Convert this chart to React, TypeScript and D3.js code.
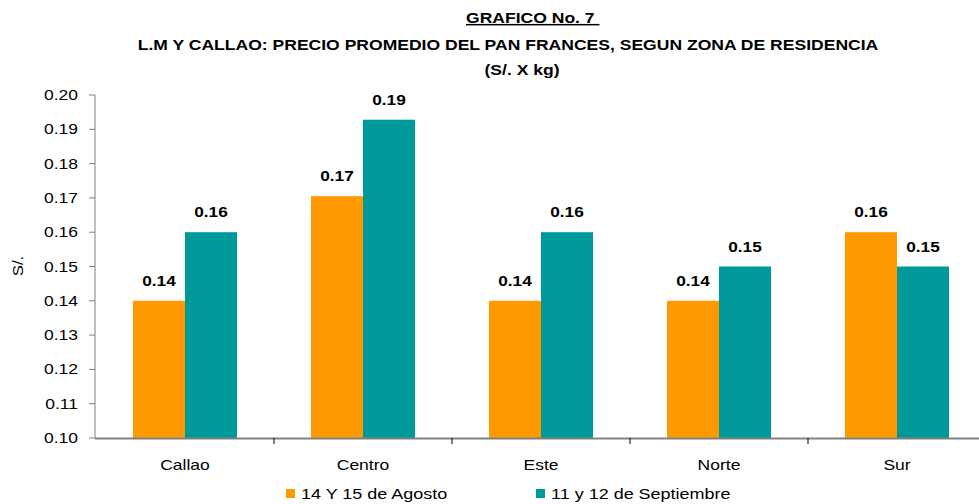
import React from "react";
import * as d3 from "d3";

const categories = ["Callao", "Centro", "Este", "Norte", "Sur"];
const seriesNames = ["14 Y 15 de Agosto", "11 y 12 de Septiembre"];
const agosto = [0.14, 0.1705, 0.14, 0.14, 0.16];
const septiembre = [0.16, 0.1928, 0.16, 0.15, 0.15];
const yTicks = [0.1, 0.11, 0.12, 0.13, 0.14, 0.15, 0.16, 0.17, 0.18, 0.19, 0.2];
const colors = ["#FF9900", "#009999"];

const W = 979;
const H = 504;
const left = 96;
const top = 95;
const bottom = 438;
const bandW = 178;

function T(props: {
  x: number;
  y: number;
  sx?: number;
  rotate?: number;
  anchor?: "start" | "middle" | "end";
  size: number;
  bold?: boolean;
  underline?: boolean;
  children: React.ReactNode;
}) {
  const sx = props.sx ?? 1.2;
  const rot = props.rotate ? ` rotate(${props.rotate})` : "";
  return (
    <text
      transform={`translate(${props.x},${props.y})${rot} scale(${sx},1)`}
      textAnchor={props.anchor ?? "start"}
      fontSize={props.size}
      fontWeight={props.bold ? "bold" : "normal"}
      textDecoration={props.underline ? "underline" : undefined}
      fill="#000"
      style={{ whiteSpace: "pre" }}
    >
      {props.children}
    </text>
  );
}

export default function App() {
  const x = d3
    .scaleBand<string>()
    .domain(categories)
    .range([left, left + bandW * categories.length])
    .paddingInner(0)
    .paddingOuter(0);
  const y = d3.scaleLinear().domain([0.1, 0.2]).range([bottom, top]);
  const barW = 52;
  const series = [agosto, septiembre];
  const font = "Arial, 'Liberation Sans', sans-serif";

  return (
    <svg width={W} height={H} style={{ position: "absolute", left: 0, top: 0, background: "#fff" }} fontFamily={font}>
      <rect x={0} y={0} width={W} height={H} fill="#fff" />
      {/* Title */}
      <T x={466} y={23} size={15} bold sx={1.17} underline>{"GRAFICO No. 7 "}</T>
      <T x={508} y={50} anchor="middle" size={15} bold sx={1.17}>
        L.M Y CALLAO: PRECIO PROMEDIO DEL PAN FRANCES, SEGUN ZONA DE RESIDENCIA
      </T>
      <T x={522} y={75} anchor="middle" size={15} bold sx={1.17}>(S/. X kg)</T>

      {/* Bars */}
      {categories.map((c, i) => {
        const cx = (x(c) as number) + x.bandwidth() / 2;
        return series.map((s, j) => {
          const bx = cx - barW + j * barW;
          const by = y(s[i]);
          return (
            <g key={c + j}>
              <rect x={bx} y={by} width={barW} height={bottom - by} fill={colors[j]} />
              <T x={bx + barW / 2} y={by - 15} anchor="middle" size={15} bold sx={1.15}>
                {s[i].toFixed(2)}
              </T>
            </g>
          );
        });
      })}

      {/* Y axis */}
      <line x1={left - 1} x2={left - 1} y1={top} y2={bottom} stroke="#808080" strokeWidth={1} />
      {yTicks.map((t) => (
        <g key={t}>
          <line x1={left - 7} x2={left - 1} y1={y(t)} y2={y(t)} stroke="#808080" />
          <T x={78} y={y(t) + 5} anchor="end" size={14} sx={1.25}>
            {t.toFixed(2)}
          </T>
        </g>
      ))}
      <T x={23} y={266} rotate={-90} anchor="middle" size={14} sx={1.2}>S/.</T>

      {/* X axis */}
      <line x1={left - 1} x2={W} y1={bottom + 0.5} y2={bottom + 0.5} stroke="#808080" strokeWidth={2} />
      {categories.slice(1).map((c) => (
        <line key={c} x1={x(c) as number} x2={x(c) as number} y1={bottom} y2={bottom + 6} stroke="#000" />
      ))}
      {categories.map((c) => (
        <T key={c} x={(x(c) as number) + x.bandwidth() / 2} y={470} anchor="middle" size={14} sx={1.25}>
          {c}
        </T>
      ))}

      {/* Legend */}
      {seriesNames.map((n, j) => {
        const lx = j === 0 ? 286 : 536;
        return (
          <g key={n}>
            <rect x={lx} y={489} width={9} height={9} fill={colors[j]} />
            <T x={lx + 15} y={499} size={15} sx={1.2}>{n}</T>
          </g>
        );
      })}
    </svg>
  );
}
